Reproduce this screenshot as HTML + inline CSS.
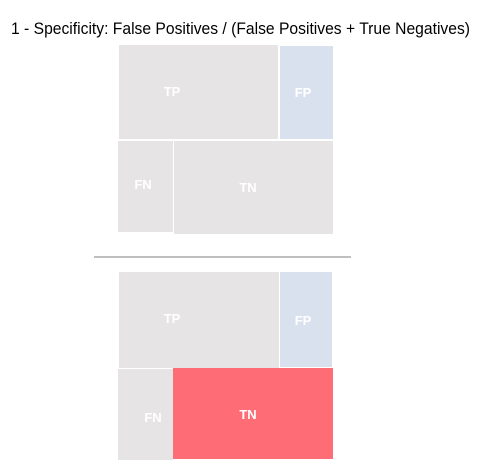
<!DOCTYPE html>
<html><head><meta charset="utf-8"><style>
html,body{margin:0;padding:0;background:#fff;width:485px;height:465px;overflow:hidden}
svg{display:block}
.lbl{font-family:"Liberation Sans",sans-serif;font-weight:bold;font-size:13px;fill:#fff;text-anchor:middle}
</style></head><body>
<svg width="485" height="465" viewBox="0 0 485 465">
<text x="11" y="34" textLength="459" lengthAdjust="spacingAndGlyphs" font-family="Liberation Sans, sans-serif" font-size="17" fill="#000">1 - Specificity: False Positives / (False Positives + True Negatives)</text>
<g>
<rect x="119" y="45" width="159" height="94" fill="#e6e4e4"/>
<rect x="280" y="46" width="53" height="93" fill="#d9e1ef"/>
<rect x="118" y="141" width="55" height="91" fill="#e6e4e4"/>
<rect x="174" y="141" width="159" height="93" fill="#e6e4e4"/>
<text class="lbl" x="172" y="96">TP</text>
<text class="lbl" x="303" y="97">FP</text>
<text class="lbl" x="143" y="189">FN</text>
<text class="lbl" x="248" y="192">TN</text>
</g>
<line x1="94" y1="257" x2="351" y2="257" stroke="#7f7f7f" stroke-width="1"/>
<g>
<rect x="119" y="272" width="160" height="96" fill="#e6e4e4"/>
<rect x="280" y="272" width="52" height="95" fill="#d9e1ef"/>
<rect x="118" y="369" width="55" height="91" fill="#e6e4e4"/>
<rect x="173" y="368" width="160" height="91" fill="#fe6d75"/>
<text class="lbl" x="172" y="323">TP</text>
<text class="lbl" x="303" y="325">FP</text>
<text class="lbl" x="153" y="422">FN</text>
<text class="lbl" x="248" y="419">TN</text>
</g>
</svg>
</body></html>
